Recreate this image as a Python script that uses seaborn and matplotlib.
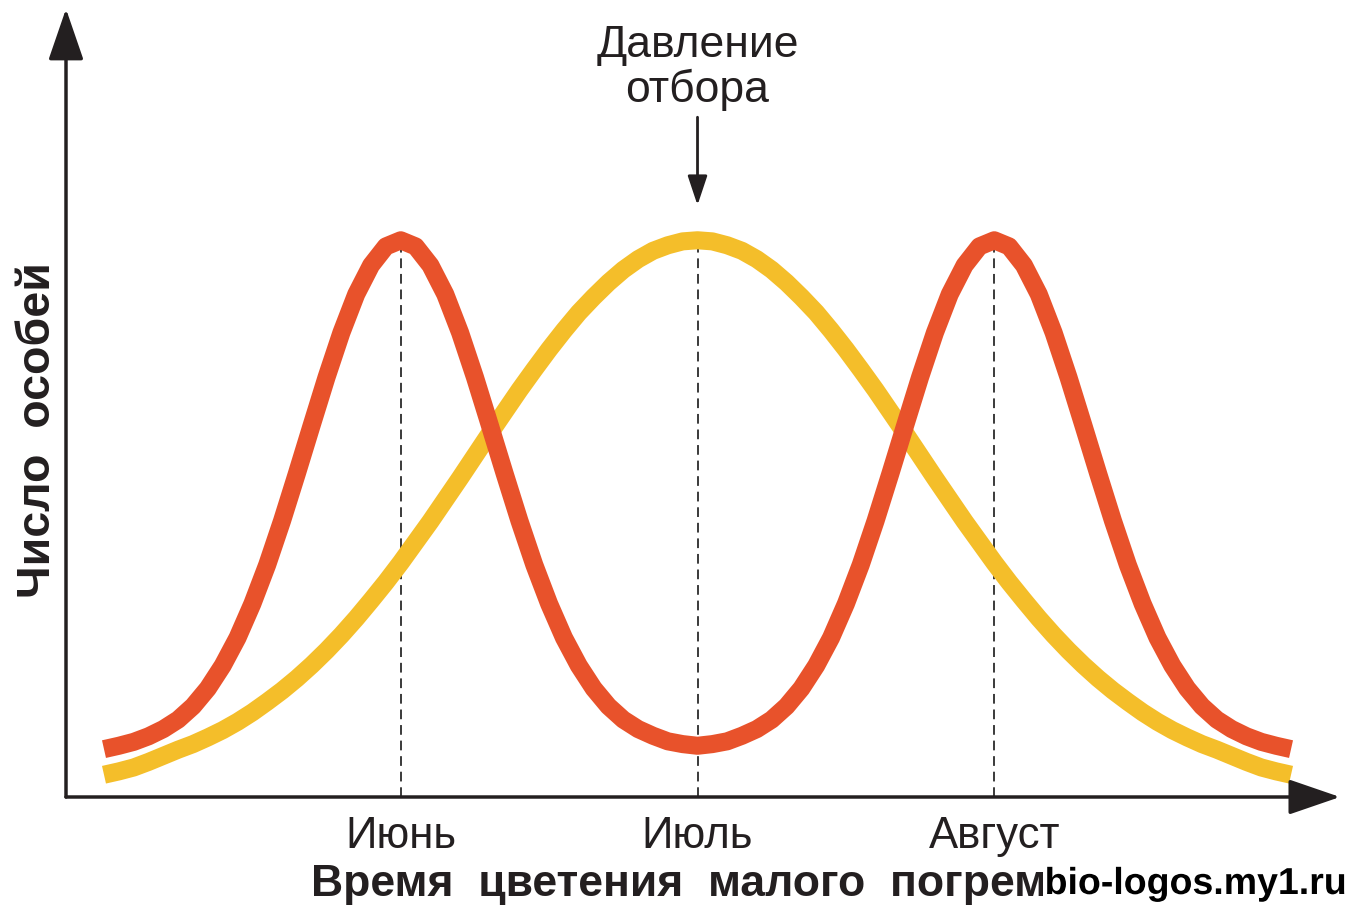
import matplotlib
matplotlib.use("Agg")

import matplotlib.pyplot as plt
import seaborn as sns
from matplotlib import patheffects


# flowering time in months (6 = June, 7 = July, 8 = August)
MONTH = [
    5.00, 5.05, 5.10, 5.15, 5.20, 5.25, 5.30, 5.35, 5.40, 5.45,
    5.50, 5.55, 5.60, 5.65, 5.70, 5.75, 5.80, 5.85, 5.90, 5.95,
    6.00, 6.05, 6.10, 6.15, 6.20, 6.25, 6.30, 6.35, 6.40, 6.45,
    6.50, 6.55, 6.60, 6.65, 6.70, 6.75, 6.80, 6.85, 6.90, 6.95,
    7.00, 7.05, 7.10, 7.15, 7.20, 7.25, 7.30, 7.35, 7.40, 7.45,
    7.50, 7.55, 7.60, 7.65, 7.70, 7.75, 7.80, 7.85, 7.90, 7.95,
    8.00, 8.05, 8.10, 8.15, 8.20, 8.25, 8.30, 8.35, 8.40, 8.45,
    8.50, 8.55, 8.60, 8.65, 8.70, 8.75, 8.80, 8.85, 8.90, 8.95,
    9.00,
]

# two-peak distribution (after selection)
RED_COUNT = [
    8.6, 9.2, 9.9, 10.9, 12.2, 13.9, 16.3, 19.5, 23.6, 28.6,
    34.7, 41.7, 49.6, 58.1, 66.8, 75.4, 83.4, 90.3, 95.5, 98.9,
    100.0, 98.9, 95.5, 90.3, 83.4, 75.4, 66.8, 58.1, 49.6, 41.7,
    34.7, 28.6, 23.6, 19.5, 16.3, 13.9, 12.2, 11.0, 10.0, 9.5,
    9.2, 9.5, 10.0, 11.0, 12.2, 13.9, 16.3, 19.5, 23.6, 28.6,
    34.7, 41.7, 49.6, 58.1, 66.8, 75.4, 83.4, 90.3, 95.5, 98.9,
    100.0, 98.9, 95.5, 90.3, 83.4, 75.4, 66.8, 58.1, 49.6, 41.7,
    34.7, 28.6, 23.6, 19.5, 16.3, 13.9, 12.2, 10.9, 9.9, 9.2,
    8.6,
]

# single-peak distribution (before selection)
YELLOW_COUNT = [
    4.0, 4.6, 5.3, 6.3, 7.4, 8.5, 9.5, 10.7, 12.0, 13.5,
    15.2, 17.1, 19.1, 21.3, 23.7, 26.3, 29.1, 32.1, 35.3, 38.6,
    42.1, 45.8, 49.5, 53.4, 57.3, 61.3, 65.3, 69.2, 73.1, 76.8,
    80.4, 83.8, 87.0, 89.8, 92.4, 94.7, 96.6, 98.1, 99.1, 99.8,
    100.0, 99.8, 99.1, 98.1, 96.6, 94.7, 92.4, 89.8, 87.0, 83.8,
    80.4, 76.8, 73.1, 69.2, 65.3, 61.3, 57.3, 53.4, 49.5, 45.8,
    42.1, 38.6, 35.3, 32.1, 29.1, 26.3, 23.7, 21.3, 19.1, 17.1,
    15.2, 13.5, 12.0, 10.7, 9.5, 8.5, 7.4, 6.3, 5.3, 4.6,
    4.0,
]

TICK_MONTHS = [6, 7, 8]
TICK_LABELS = ["Июнь", "Июль", "Август"]

RED = "#E8522B"
YELLOW = "#F4BE2A"
INK = "#231F20"

sns.set_style("white")
plt.rcParams["font.family"] = ["Liberation Sans", "DejaVu Sans"]

fig = plt.figure(figsize=(13.49, 9.15), dpi=100)
ax = fig.add_axes([66 / 1349, 118 / 915, 1274 / 1349, 785 / 915])

# dashed guides from the peaks down to the axis
ax.vlines(TICK_MONTHS, 0, 100, colors="#3a3a3a", linestyles=(0, (5, 3)),
          linewidth=1.4, zorder=1)

sns.lineplot(x=MONTH, y=YELLOW_COUNT, ax=ax, color=YELLOW,
             linewidth=13, sort=False, solid_capstyle="butt",
             solid_joinstyle="round", zorder=2)
sns.lineplot(x=MONTH, y=RED_COUNT, ax=ax, color=RED,
             linewidth=13, sort=False, solid_capstyle="butt",
             solid_joinstyle="round", zorder=3)

ax.set_xlim(4.872, 9.165)
ax.set_ylim(0, 141)

for side in ax.spines.values():
    side.set_visible(False)

# axes drawn as arrows
axis_arrow = dict(arrowstyle="-|>,head_length=1.6,head_width=0.55",
                  lw=2.5, color=INK, mutation_scale=20,
                  shrinkA=0, shrinkB=0)
ax.annotate("", xy=(1, 0), xytext=(0, 0), xycoords="axes fraction",
            arrowprops=axis_arrow, annotation_clip=False)
ax.annotate("", xy=(0, 1.004), xytext=(0, 0), xycoords="axes fraction",
            arrowprops=axis_arrow, annotation_clip=False)

ax.set_yticks([])
ax.set_xticks(TICK_MONTHS, TICK_LABELS)
ax.tick_params(axis="x", length=0, pad=14, labelsize=31.5, labelcolor=INK)

ax.set_xlabel("Время  цветения  малого  погремка", fontsize=32,
              fontweight="bold", color=INK, labelpad=5)
ax.text(-0.022, 0.4675, "Число  особей", transform=ax.transAxes,
        rotation=90, ha="center", va="center", fontsize=33.5,
        fontweight="bold", color=INK, clip_on=False)

# selection pressure label
ax.text(7, 131.0, "Давление\nотбора", ha="center", va="center",
        fontsize=32, color=INK, linespacing=1.08)
ax.annotate("", xy=(7, 106.3), xytext=(7, 122.1),
            arrowprops=dict(arrowstyle="-|>,head_length=0.9,head_width=0.3",
                            lw=2, color=INK, mutation_scale=20,
                            shrinkA=0, shrinkB=0))

# site watermark sitting over the end of the axis title, as in the source
fig.text(0.9985, 31 / 915, "bio-logos.my1.ru", ha="right", va="center",
         fontsize=27, fontweight="bold", color="black", zorder=10,
         bbox=dict(boxstyle="square,pad=0.05", facecolor="white",
                   edgecolor="none"),
         path_effects=[patheffects.withStroke(linewidth=5, foreground="white")])

fig.savefig("out.png", dpi=100)
plt.close(fig)
